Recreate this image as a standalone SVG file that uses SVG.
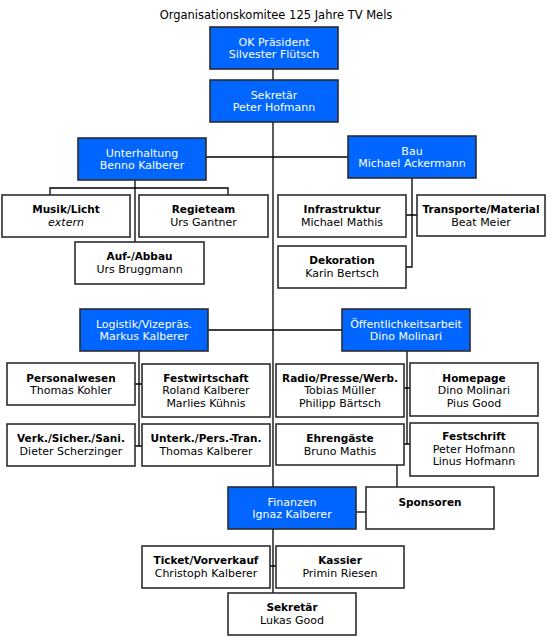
<svg xmlns="http://www.w3.org/2000/svg" width="549" height="638" viewBox="0 0 549 638">
<style>
rect{stroke:#2b2b33;stroke-width:1.6}
.b{fill:#0066ff}
.w{fill:#ffffff}
text{font-family:"DejaVu Sans","Liberation Sans",sans-serif;font-size:11px;text-anchor:middle}
.wt{fill:#ffffff}
.t{fill:#000}
.h{font-weight:bold;font-size:10.5px}
.i{font-style:italic}
.title{font-size:11.5px;fill:#000}
#conn path{fill:none;stroke:#000;stroke-width:1.3}
</style>
<rect x="0" y="0" width="549" height="638" fill="#fff" style="stroke:none"/>
<text class="title" x="276" y="19">Organisationskomitee 125 Jahre TV Mels</text>
<g id="conn">
<path d="M273,69V487"/>
<path d="M206,157H348"/>
<path d="M135,180V242M50,195V188H228V195"/>
<path d="M412,178V267H406M406,215H417"/>
<path d="M208,330H342"/>
<path d="M139,351V446H135M135,384H142M139,446H142"/>
<path d="M407,351V444H404M404,388H410M407,444H410"/>
<path d="M397,465V487"/>
<path d="M356,512H366"/>
<path d="M273,529V593M270,566H276"/>
</g>
<g id="ok"><rect class="b" x="210" y="27" width="128" height="42"/><text class="wt" x="274" y="45.5">OK Präsident</text><text class="wt" x="274" y="58">Silvester Flütsch</text></g>
<g id="sek"><rect class="b" x="210" y="80" width="128" height="42"/><text class="wt" x="274" y="98.5">Sekretär</text><text class="wt" x="274" y="111">Peter Hofmann</text></g>
<g id="unterhaltung"><rect class="b" x="78" y="138" width="128" height="42"/><text class="wt" x="142" y="156.5">Unterhaltung</text><text class="wt" x="142" y="169">Benno Kalberer</text></g>
<g id="bau"><rect class="b" x="348" y="136" width="128" height="42"/><text class="wt" x="412" y="154.5">Bau</text><text class="wt" x="412" y="167">Michael Ackermann</text></g>
<g id="musik"><rect class="w" x="2" y="195" width="128" height="42"/><text class="t h" x="66" y="213">Musik/Licht</text><text class="t i" x="66" y="225.5">extern</text></g>
<g id="regie"><rect class="w" x="139" y="195" width="129" height="42"/><text class="t h" x="203.5" y="213">Regieteam</text><text class="t" x="203.5" y="225.5">Urs Gantner</text></g>
<g id="abbau"><rect class="w" x="75" y="242" width="129" height="42"/><text class="t h" x="139.5" y="260">Auf-/Abbau</text><text class="t" x="139.5" y="272.5">Urs Bruggmann</text></g>
<g id="infra"><rect class="w" x="278" y="195" width="128" height="42"/><text class="t h" x="342" y="213">Infrastruktur</text><text class="t" x="342" y="225.5">Michael Mathis</text></g>
<g id="transporte"><rect class="w" x="417" y="195" width="128" height="41"/><text class="t h" x="481" y="213">Transporte/Material</text><text class="t" x="481" y="225.5">Beat Meier</text></g>
<g id="deko"><rect class="w" x="278" y="246" width="128" height="42"/><text class="t h" x="342" y="264">Dekoration</text><text class="t" x="342" y="276.5">Karin Bertsch</text></g>
<g id="logistik"><rect class="b" x="80" y="309" width="128" height="42"/><text class="wt" x="144" y="327.5">Logistik/Vizepräs.</text><text class="wt" x="144" y="340">Markus Kalberer</text></g>
<g id="oeff"><rect class="b" x="342" y="309" width="128" height="42"/><text class="wt" x="406" y="327.5">Öffentlichkeitsarbeit</text><text class="wt" x="406" y="340">Dino Molinari</text></g>
<g id="personal"><rect class="w" x="7" y="363" width="128" height="42"/><text class="t h" x="71" y="381.5">Personalwesen</text><text class="t" x="71" y="394">Thomas Kohler</text></g>
<g id="festwirtschaft"><rect class="w" x="142" y="364" width="128" height="53"/><text class="t h" x="206" y="381.5">Festwirtschaft</text><text class="t" x="206" y="394">Roland Kalberer</text><text class="t" x="206" y="406.5">Marlies Kühnis</text></g>
<g id="radio"><rect class="w" x="276" y="364" width="128" height="53"/><text class="t h" x="340" y="381.5">Radio/Presse/Werb.</text><text class="t" x="340" y="394">Tobias Müller</text><text class="t" x="340" y="406.5">Philipp Bärtsch</text></g>
<g id="homepage"><rect class="w" x="410" y="363" width="128" height="53"/><text class="t h" x="474" y="381.5">Homepage</text><text class="t" x="474" y="394">Dino Molinari</text><text class="t" x="474" y="406.5">Pius Good</text></g>
<g id="verk"><rect class="w" x="7" y="424" width="128" height="42"/><text class="t h" x="71" y="442">Verk./Sicher./Sani.</text><text class="t" x="71" y="454.5">Dieter Scherzinger</text></g>
<g id="unterk"><rect class="w" x="142" y="424" width="128" height="42"/><text class="t h" x="206" y="442">Unterk./Pers.-Tran.</text><text class="t" x="206" y="454.5">Thomas Kalberer</text></g>
<g id="ehrengaeste"><rect class="w" x="276" y="424" width="128" height="41"/><text class="t h" x="340" y="442">Ehrengäste</text><text class="t" x="340" y="454.5">Bruno Mathis</text></g>
<g id="festschrift"><rect class="w" x="410" y="423" width="128" height="53"/><text class="t h" x="474" y="440">Festschrift</text><text class="t" x="474" y="452.5">Peter Hofmann</text><text class="t" x="474" y="465">Linus Hofmann</text></g>
<g id="finanzen"><rect class="b" x="228" y="487" width="128" height="42"/><text class="wt" x="292" y="505.5">Finanzen</text><text class="wt" x="292" y="518">Ignaz Kalberer</text></g>
<g id="sponsoren"><rect class="w" x="366" y="487" width="128" height="42"/><text class="t h" x="430" y="506">Sponsoren</text></g>
<g id="ticket"><rect class="w" x="142" y="546" width="128" height="42"/><text class="t h" x="206" y="564">Ticket/Vorverkauf</text><text class="t" x="206" y="576.5">Christoph Kalberer</text></g>
<g id="kassier"><rect class="w" x="276" y="546" width="128" height="42"/><text class="t h" x="340" y="564">Kassier</text><text class="t" x="340" y="576.5">Primin Riesen</text></g>
<g id="sekretaer2"><rect class="w" x="228" y="593" width="128" height="42"/><text class="t h" x="292" y="611">Sekretär</text><text class="t" x="292" y="623.5">Lukas Good</text></g>
</svg>
